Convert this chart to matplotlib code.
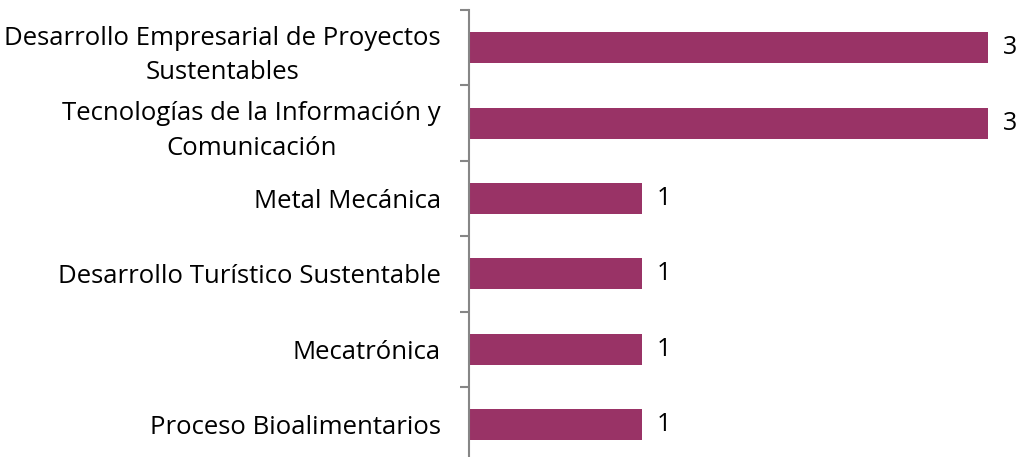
import matplotlib
matplotlib.use("Agg")
import matplotlib.pyplot as plt

categorias = ["Desarrollo Empresarial de Proyectos\nSustentables",
              "Tecnologías de la Información y\nComunicación",
              "Metal Mecánica",
              "Desarrollo Turístico Sustentable",
              "Mecatrónica",
              "Proceso Bioalimentarios"]
valores = [3, 3, 1, 1, 1, 1]

color_barra = "#993366"
color_eje = "#868686"

plt.rcParams['font.family'] = ['Open Sans', 'DejaVu Sans']

fig = plt.figure(figsize=(10.22, 4.57), dpi=100)
W, H = 1022, 457
# axes placed in pixel terms, bottom runs past the figure edge like the original
x0, x1 = 468.5, 1022
ytop, ybot = 10, 462.5
ax = fig.add_axes([x0 / W, 1 - ybot / H, (x1 - x0) / W, (ybot - ytop) / H])

pos = list(range(len(categorias)))
ax.barh(pos, valores, height=0.41, color=color_barra)
ax.set_ylim(len(categorias) - 0.5, -0.5)
ax.set_xlim(0, (x1 - x0) / 173.0)

for p, v in zip(pos, valores):
    ax.annotate(str(v), (v, p), xytext=(11, 0), textcoords="offset points",
                va="center", ha="left", fontsize=18, color="black")

ax.set_yticks(pos)
ax.set_yticklabels(categorias, fontsize=18.5, linespacing=1.5)
for t in ax.get_yticklabels():
    t.set_multialignment("center")
ax.set_yticks([i - 0.5 for i in range(len(categorias) + 1)], minor=True)
ax.tick_params(axis="y", which="major", length=0, pad=20)
ax.tick_params(axis="y", which="minor", length=6.5, width=1.5, color=color_eje)
ax.set_xticks([])
for s in ["top", "right", "bottom"]:
    ax.spines[s].set_visible(False)
ax.spines["left"].set_color(color_eje)
ax.spines["left"].set_linewidth(1.5)

fig.savefig("out.png", dpi=100)
